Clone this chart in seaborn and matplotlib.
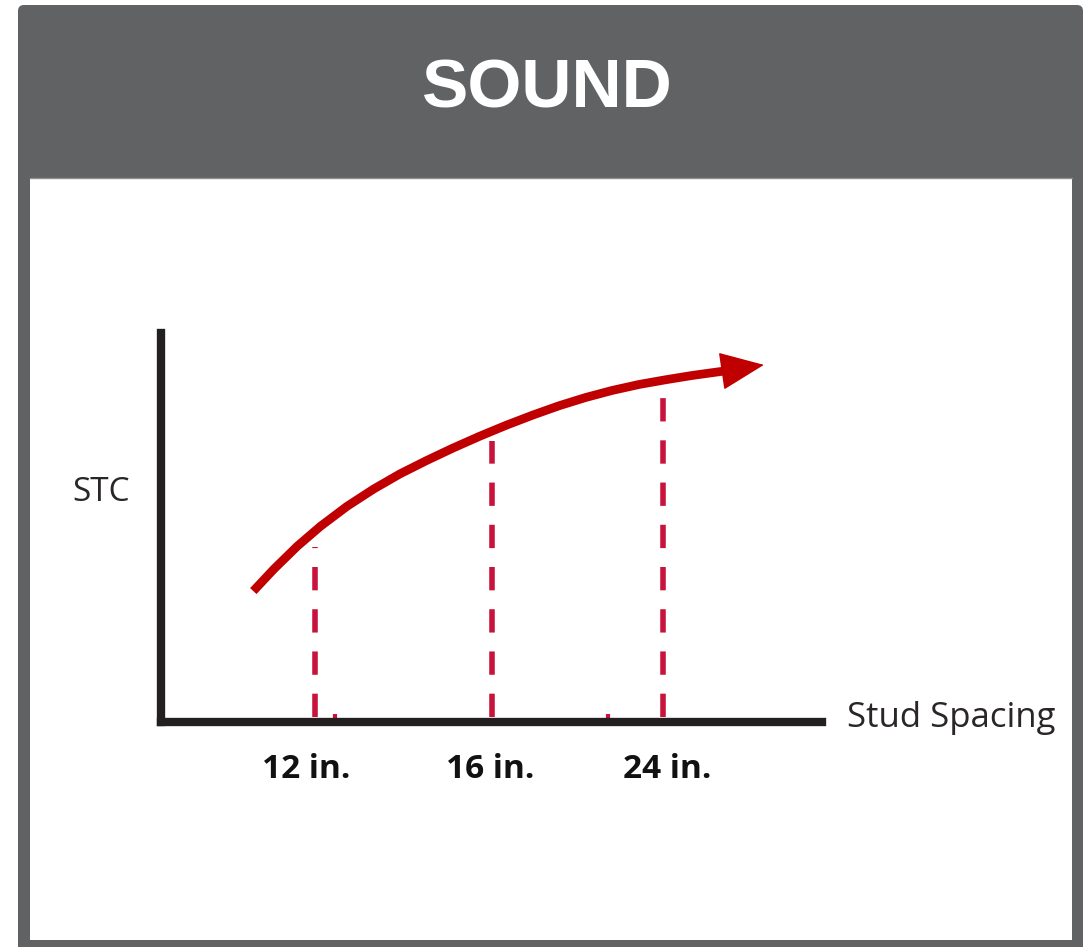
import matplotlib
matplotlib.use('Agg')
import matplotlib.pyplot as plt
import seaborn as sns
from matplotlib.patches import FancyBboxPatch, Rectangle

# curve (axis runs 0-100 both ways)
curve_x = [13.9, 17.0, 20.5, 24.0, 28.0, 32.0, 36.0, 40.0, 44.0, 48.0,
           52.0, 56.0, 60.0, 64.0, 68.0, 72.0, 76.0, 80.0, 84.7]
curve_y = [33.4, 39.0, 44.8, 49.9, 55.0, 59.4, 63.3, 66.7, 69.9, 72.9,
           75.7, 78.3, 80.7, 82.8, 84.6, 86.1, 87.3, 88.4, 89.5]
arrow_tip = (90.8, 91.1)

# stud spacing markers
spacing_labels = ['12 in.', '16 in.', '24 in.']
spacing_x = [23.2, 49.8, 75.6]
spacing_top = [44.7, 71.7, 82.9]
label_x = [21.8, 49.6, 76.3]
stub_x = [26.2, 67.3]

sns.set_style('white')
plt.rcParams['font.family'] = ['Open Sans', 'DejaVu Sans']

W, H = 1091, 947
fig = plt.figure(figsize=(W / 100, H / 100), dpi=100)
fig.patch.set_facecolor('white')

# panel frame + header
bg = fig.add_axes([0, 0, 1, 1], zorder=0)
bg.set_xlim(0, W)
bg.set_ylim(H, 0)
bg.axis('off')
bg.add_patch(FancyBboxPatch((18, 5), 1065, 960, boxstyle='round,pad=0,rounding_size=6',
                            facecolor='#616264', edgecolor='none'))
bg.add_patch(Rectangle((30, 178), 1042, 762, facecolor='white', edgecolor='none'))
bg.plot([30, 1072], [178, 178], color='#8d8e90', lw=1)
bg.text(547, 89, 'SOUND', ha='center', va='center', color='white',
        fontsize=50, fontweight='bold', family=['Liberation Sans', 'DejaVu Sans'])

# chart
ax = fig.add_axes([161 / W, 1 - 722 / H, 661 / W, 389 / H], zorder=1)
ax.patch.set_alpha(0)
ax.set_xlim(0, 99.55)
ax.set_ylim(0, 99.23)

red = '#c00000'
crimson = '#c8143c'

ax.vlines(spacing_x, 1.3, spacing_top, colors=crimson, lw=4.0,
          linestyles=(0, (4.2, 3.4)))
ax.vlines(stub_x, 0, 2.0, colors=crimson, lw=3.0)

sns.lineplot(x=curve_x, y=curve_y, sort=False, color=red, lw=6.3, ax=ax,
             solid_capstyle='butt', solid_joinstyle='round')
ax.annotate('', xy=arrow_tip, xytext=(curve_x[-2], curve_y[-2]),
            arrowprops=dict(arrowstyle='-|>,head_length=2.9,head_width=1.25',
                            color=red, lw=1, shrinkA=0, shrinkB=0,
                            mutation_scale=10, joinstyle='round'))

for side in ['top', 'right']:
    ax.spines[side].set_visible(False)
for side in ['left', 'bottom']:
    ax.spines[side].set_color('#231f20')
    ax.spines[side].set_linewidth(6)
    ax.spines[side].set_capstyle('projecting')

ax.set_yticks([])
ax.set_xticks(label_x)
ax.set_xticklabels(spacing_labels, fontsize=24, fontweight='bold', color='#111111')
for t in ax.get_xticklabels():
    t.set_va('baseline')
ax.tick_params(axis='x', length=0, pad=40)

ax.set_ylabel('STC', rotation=0, fontsize=24, color='#2a2627', ha='center', va='center')
ax.yaxis.set_label_coords(-0.09, 0.589)
ax.set_xlabel('Stud Spacing', fontsize=25, color='#2a2627', ha='left', va='baseline')
ax.xaxis.set_label_coords(1.038, -0.013)

fig.savefig('out.png', dpi=100)
